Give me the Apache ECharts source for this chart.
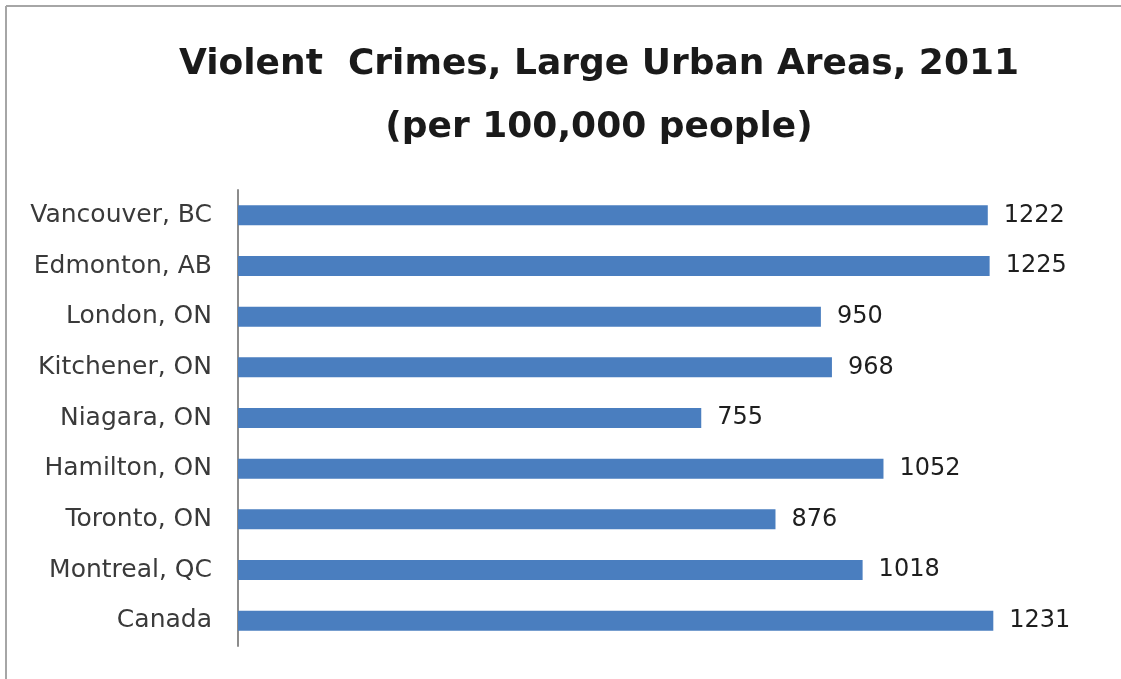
<!DOCTYPE html>
<html>
<head>
<meta charset="utf-8">
<script src="https://cdn.jsdelivr.net/npm/echarts@6/dist/echarts.min.js"></script>
<style>
  html, body { margin: 0; padding: 0; background: #ffffff; }
  #chart { width: 1121px; height: 679px; }
</style>
</head>
<body>
<div id="chart"></div>
<script>
// Urban areas, listed top to bottom
const categories = [
  'Vancouver, BC', 'Edmonton, AB', 'London, ON', 'Kitchener, ON', 'Niagara, ON',
  'Hamilton, ON', 'Toronto, ON', 'Montreal, QC', 'Canada'
];
// Violent crimes per 100,000 people, 2011
const crimeRates = [1222, 1225, 950, 968, 755, 1052, 876, 1018, 1231];

const titleLines = ['Violent  Crimes, Large Urban Areas, 2011', '(per 100,000 people)'];

const chart = echarts.init(document.getElementById('chart'), null, { renderer: 'canvas' });

chart.setOption({
  backgroundColor: '#ffffff',
  animation: false,
  title: {
    text: titleLines.join('\n'),
    left: 594,
    top: 28,
    textAlign: 'center',
    textStyle: {
      fontFamily: 'DejaVu Sans',
      fontWeight: 'bold',
      fontSize: 36,
      lineHeight: 63,
      color: '#1a1a1a'
    }
  },
  graphic: [
    { type: 'line', shape: { x1: 6, y1: 6, x2: 1121, y2: 6 }, style: { stroke: '#a6a6a6', lineWidth: 2 } },
    { type: 'line', shape: { x1: 6, y1: 6, x2: 6, y2: 679 }, style: { stroke: '#a6a6a6', lineWidth: 2 } }
  ],
  grid: { left: 238, right: 24, top: 190, bottom: 33 },
  xAxis: {
    type: 'value',
    min: 0,
    max: 1400,
    show: false,
    splitLine: { show: false }
  },
  yAxis: {
    type: 'category',
    data: categories,
    inverse: true,
    axisTick: { show: false },
    axisLine: { show: true, lineStyle: { color: '#8c8c8c', width: 2 } },
    axisLabel: {
      margin: 26,
      fontFamily: 'DejaVu Sans',
      fontSize: 25,
      color: '#3a3a3a'
    }
  },
  series: [{
    type: 'bar',
    data: crimeRates,
    barWidth: 20,
    itemStyle: { color: '#4a7ebf' },
    label: {
      show: true,
      position: 'right',
      distance: 16,
      fontFamily: 'DejaVu Sans',
      fontSize: 24,
      color: '#1e1e1e'
    }
  }]
});
</script>
</body>
</html>
